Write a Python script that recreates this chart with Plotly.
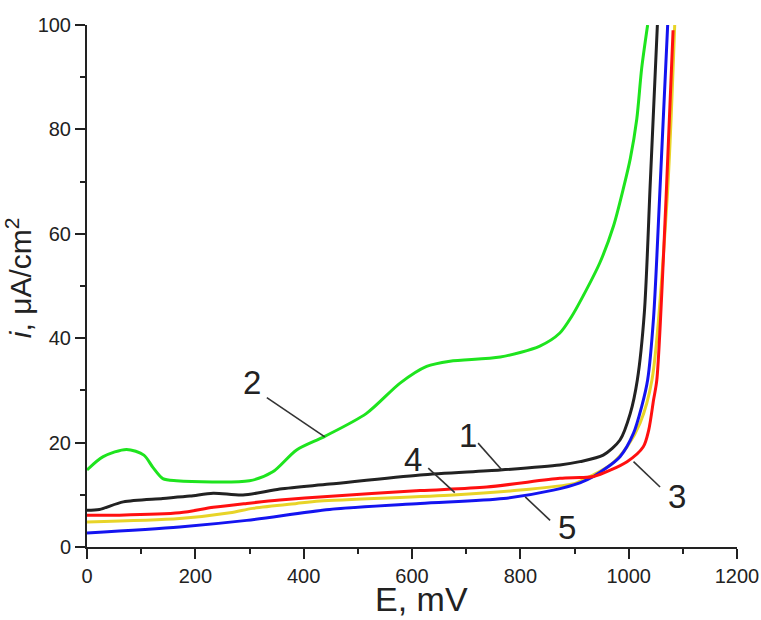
import plotly.graph_objects as go

# ---- data ----
E1 = [0, 23, 67, 140, 190, 233, 288, 356, 448, 615, 763, 873, 910, 953, 984, 1003, 1016, 1029, 1040, 1053]
I1 = [7.05, 7.2, 8.65, 9.3, 9.75, 10.3, 9.95, 11.1, 12.05, 13.8, 14.75, 15.7, 16.35, 17.6, 20.5, 25.6, 32, 45, 70, 100]

E2 = [0, 30, 73, 105, 122, 140, 165, 300, 343, 387, 439, 516, 578, 627, 670, 763, 836, 873, 895, 916, 947, 972, 990, 1003, 1015, 1024, 1035]
I2 = [14.75, 17.3, 18.7, 17.6, 15.2, 13.1, 12.7, 12.7, 14.4, 18.6, 21.2, 25.6, 31.4, 34.6, 35.6, 36.4, 38.5, 41, 44.2, 48.1, 54.5, 61.5, 68.6, 74.4, 82, 91.7, 100]

E3 = [0, 60, 171, 233, 295, 356, 430, 615, 738, 873, 910, 935, 997, 1027, 1037, 1046, 1052, 1069, 1082]
I3 = [6.1, 6.1, 6.55, 7.6, 8.35, 9.0, 9.6, 10.8, 11.5, 13.15, 13.3, 13.5, 16.35, 19.2, 22.4, 28.2, 32, 66.7, 99]

E4 = [0, 171, 264, 306, 387, 430, 676, 800, 892, 904, 966, 997, 1021, 1043, 1071, 1085]
I4 = [4.8, 5.45, 6.55, 7.4, 8.35, 8.8, 9.95, 10.9, 12.0, 12.3, 15.7, 19.2, 23.7, 32, 66.7, 100]

E5 = [0, 171, 295, 448, 615, 769, 861, 910, 935, 984, 1009, 1024, 1035, 1046, 1057, 1072]
I5 = [2.7, 3.85, 5.1, 7.2, 8.35, 9.3, 10.9, 12.3, 13.5, 17.3, 21.8, 26.9, 32, 44, 66.7, 100]

# curve labels: text, label position, callout line (from -> to)
LABELS = ["1", "2", "3", "4", "5"]
LABEL_E = [703, 304, 1090, 602, 887]
LABEL_I = [21.3, 31.5, 9.6, 16.7, 3.8]
LINE_E0 = [722, 332, 1009, 630, 809]
LINE_I0 = [19.9, 28.6, 16.35, 15.1, 9.6]
LINE_E1 = [766, 439, 1058, 679, 855]
LINE_I1 = [14.75, 21.1, 11.5, 10.4, 5.1]

X_TICKS = [0, 200, 400, 600, 800, 1000, 1200]
Y_TICKS = [0, 20, 40, 60, 80, 100]

FONT = "Liberation Sans, Arial, sans-serif"
INK = "#222222"

fig = go.Figure()
series = [
    (E4, I4, "#e8d428"),
    (E5, I5, "#1414f0"),
    (E3, I3, "#ff1010"),
    (E1, I1, "#222222"),
    (E2, I2, "#1ee41e"),
]
for ex, iy, col in series:
    fig.add_trace(go.Scatter(x=ex, y=iy, mode="lines",
                             line=dict(color=col, width=3, shape="spline", smoothing=0.8),
                             showlegend=False, hoverinfo="skip"))

for t, le, li, e0, i0, e1, i1 in zip(LABELS, LABEL_E, LABEL_I, LINE_E0, LINE_I0, LINE_E1, LINE_I1):
    fig.add_shape(type="line", x0=e0, y0=i0, x1=e1, y1=i1, xref="x", yref="y",
                  line=dict(color="#333333", width=1.6))
    fig.add_annotation(x=le, y=li, xref="x", yref="y", text=t, showarrow=False,
                       font=dict(family=FONT, size=33, color=INK))

axis_common = dict(showline=True, linewidth=2, linecolor=INK, ticks="outside",
                   ticklen=10, tickwidth=2, tickcolor=INK, showgrid=False, zeroline=False,
                   tickfont=dict(family=FONT, size=20, color=INK), mirror=False,
                   automargin=False)

fig.update_xaxes(range=[0, 1200], tickvals=X_TICKS, ticktext=[str(v) for v in X_TICKS],
                 minor=dict(ticks="outside", ticklen=5, tickwidth=2, tickcolor=INK, dtick=100, tick0=0, showgrid=False),
                 **axis_common)
fig.update_yaxes(range=[0, 100], tickvals=Y_TICKS, ticktext=[str(v) for v in Y_TICKS],
                 minor=dict(ticks="outside", ticklen=5, tickwidth=2, tickcolor=INK, dtick=10, tick0=0, showgrid=False),
                 **axis_common)

fig.add_annotation(text="E, mV", xref="paper", yref="paper", x=0.514, y=0, yanchor="bottom",
                   yshift=-73, showarrow=False, font=dict(family=FONT, size=34, color=INK))
fig.add_annotation(text="<i>i</i>, μA/cm<sup>2</sup>", xref="paper", yref="paper", x=0, y=0.515,
                   xanchor="right", xshift=-47, textangle=-90, showarrow=False,
                   font=dict(family=FONT, size=30, color=INK))

fig.update_layout(width=761, height=620, margin=dict(l=87, r=24, t=25, b=73),
                  paper_bgcolor="white", plot_bgcolor="white")

fig.write_html("out.html")
